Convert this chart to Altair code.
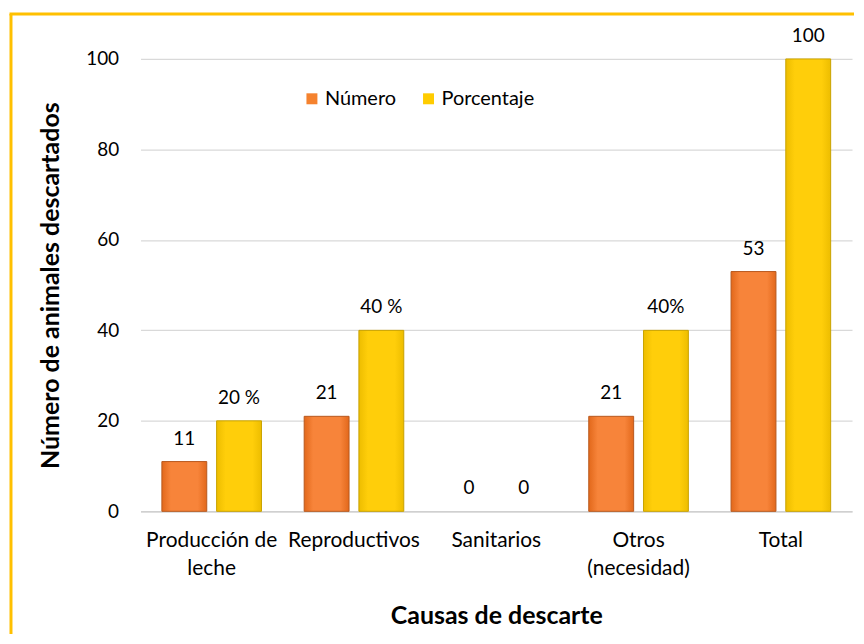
import altair as alt
import pandas as pd

categorias = ["Producción de\nleche", "Reproductivos", "Sanitarios", "Otros\n(necesidad)", "Total"]
series = ["Número", "Porcentaje"]
numero = [11, 21, 0, 21, 53]
porcentaje = [20, 40, 0, 40, 100]
etiquetas_numero = ["11", "21", "0", "21", "53"]
etiquetas_porcentaje = ["20 %", "40 %", "0", "40%", "100"]
y_ticks = [0, 20, 40, 60, 80, 100]

rows = []
for i, c in enumerate(categorias):
    rows.append({"cat": c, "serie": series[0], "value": numero[i], "label": etiquetas_numero[i]})
    rows.append({"cat": c, "serie": series[1], "value": porcentaje[i], "label": etiquetas_porcentaje[i]})
df = pd.DataFrame(rows)

FONT = "Lato"
ORANGE = "#F5822E"
YELLOW = "#FFCC00"

x_enc = alt.X(
    "cat:N", sort=categorias, title="Causas de descarte",
    scale=alt.Scale(paddingInner=0.3, paddingOuter=0.15),
    axis=alt.Axis(labelAngle=0, labelExpr="split(datum.label, '\\n')", labelFontSize=21,
                  labelLineHeight=28, labelPadding=18, ticks=False, domainColor="#D0D0D0",
                  domainWidth=1.5, titlePadding=26, titleFontSize=25, titleFontWeight="bold",
                  labelFont=FONT, titleFont=FONT, labelColor="#000", titleColor="#000", grid=False),
)
xo_enc = alt.XOffset("serie:N", sort=series, scale=alt.Scale(paddingInner=0.18))
y_enc = alt.Y(
    "value:Q", title="Número de animales descartados",
    scale=alt.Scale(domain=[0, 100], nice=False),
    axis=alt.Axis(values=y_ticks, labelFontSize=19, labelPadding=22, ticks=False, domain=False,
                  gridColor="#D9D9D9", gridWidth=1.2, titleFontSize=25, titleFontWeight="bold",
                  titlePadding=22, labelFont=FONT, titleFont=FONT, labelColor="#000", titleColor="#000"),
)

base = alt.Chart(df).encode(x=x_enc, xOffset=xo_enc, y=y_enc)

legend_layer = base.mark_bar(opacity=0).encode(
    color=alt.Color("serie:N", sort=series, title=None,
                    scale=alt.Scale(domain=series, range=[ORANGE, YELLOW]),
                    legend=alt.Legend(orient="none", legendX=162, legendY=30, direction="horizontal",
                                      symbolType="square", symbolSize=121, symbolOpacity=1,
                                      symbolStrokeWidth=0.8, labelFontSize=20, labelFont=FONT,
                                      labelColor="#000", columnPadding=22, labelOffset=3))
)

def grad(c_edge, c_mid):
    return alt.Gradient(
        gradient="linear", x1=0, x2=1, y1=0, y2=0,
        stops=[alt.GradientStop(color=c_edge, offset=0),
               alt.GradientStop(color=c_mid, offset=0.2),
               alt.GradientStop(color=c_mid, offset=0.8),
               alt.GradientStop(color=c_edge, offset=1)],
    )

orange_bars = base.transform_filter(
    (alt.datum.serie == "Número") & (alt.datum.value > 0)
).mark_bar(color=grad("#E2681B", "#F7843A"), stroke="#B8581E", strokeWidth=1)

yellow_bars = base.transform_filter(
    (alt.datum.serie == "Porcentaje") & (alt.datum.value > 0)
).mark_bar(color=grad("#EDBD00", "#FFCE0A"), stroke="#C9A300", strokeWidth=1)

texts = base.mark_text(baseline="alphabetic", dy=-17, fontSize=19, font=FONT, color="#000").encode(
    text="label:N"
)

one = pd.DataFrame({"a": [0]})
border_left = alt.Chart(one).mark_rule(color="#FFC000", strokeWidth=3).encode(
    x=alt.value(-130), y=alt.value(-45), y2=alt.value(577)
)
border_top = alt.Chart(one).mark_rule(color="#FFC000", strokeWidth=3).encode(
    x=alt.value(-131.5), x2=alt.value(716), y=alt.value(-45)
)

chart = alt.layer(
    legend_layer, orange_bars, yellow_bars, texts, border_left, border_top
).properties(
    width=714, height=454,
    padding={"left": 0, "top": 3, "right": 0, "bottom": 0},
    background="white",
).configure_view(stroke=None)

chart.save("out.html", embed_options={"renderer": "svg", "actions": False})
